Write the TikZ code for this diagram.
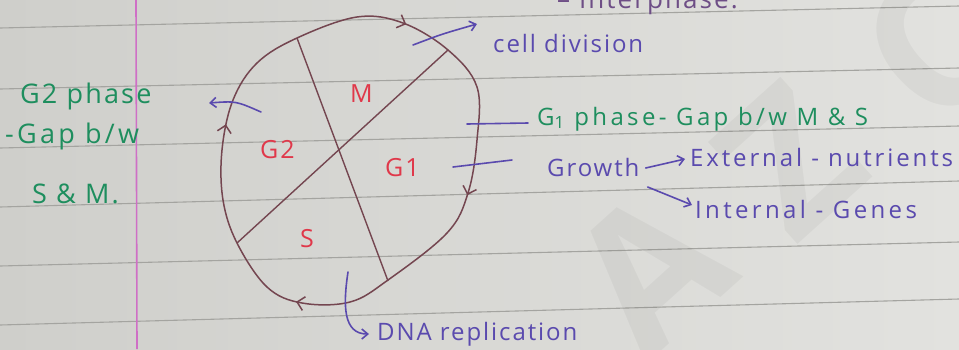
\documentclass[tikz,border=0pt]{standalone}
\usepackage{fontspec}
\setmainfont{Open Sans}[LetterSpace=8]
\usetikzlibrary{arrows.meta,decorations.markings}
\definecolor{paperL}{HTML}{CFCFCB}
\definecolor{paperR}{HTML}{E2E2DF}
\definecolor{rulec}{HTML}{A4A4A0}
\definecolor{marginc}{HTML}{CF6FC6}
\definecolor{cycc}{HTML}{744650}
\definecolor{labc}{HTML}{E0384A}
\definecolor{inkc}{HTML}{5A4AAE}
\definecolor{grnc}{HTML}{1E8E5E}
\definecolor{topc}{HTML}{6E4E86}
\begin{document}
\begin{tikzpicture}[x=1pt,y=-1pt,
  txt/.style={inner sep=0pt, anchor=base west},
  inkline/.style={draw=inkc, line width=1.6pt, line cap=round},
  tip/.style={-{Straight Barb[length=6pt,width=10pt]}},
  phaselab/.style={txt, text=labc, font=\fontsize{25}{28}\selectfont},
  note/.style={txt, text=inkc, font=\fontsize{24}{28}\selectfont},
  gnote/.style={txt, text=grnc, font=\fontsize{24}{28}\selectfont},
  lnote/.style={txt, text=grnc, font=\fontsize{27}{30}\selectfont},
  rulel/.style={draw=rulec, line width=1.1pt},
  wmark/.style={rotate=42, text=black, opacity=0.04, inner sep=0pt, font=\fontsize{190}{190}\selectfont\bfseries},
  cyclearr/.style={decoration={markings,
    mark=at position 0.065 with {\arrow{Straight Barb[length=7pt,width=14pt]}},
    mark=at position 0.317 with {\arrow{Straight Barb[length=7pt,width=14pt]}},
    mark=at position 0.558 with {\arrow{Straight Barb[length=7pt,width=14pt]}},
    mark=at position 0.826 with {\arrow{Straight Barb[length=7pt,width=14pt]}}},
    postaction={decorate}},
]
% paper
\shade[left color=paperL, right color=paperR] (0,0) rectangle (959,349);
\useasboundingbox (0,0) rectangle (959,349);
% ruled lines
\foreach \yl/\yr in {28/6, 89/68, 148/126, 207/181, 266/242, 325/299}
  \draw[rulel] (0,\yl) -- (959,\yr);
% margin
\draw[marginc, line width=1.6pt] (136,0) -- (137,349);
% watermark
\node[wmark] (wA) at (650,270) {A};
\node[wmark] (wZ) at (790,160) {Z};
\node[wmark] (wC) at (935,45) {C};
% cycle
\draw[draw=cycc, line width=1.5pt, cyclearr] plot[smooth cycle, tension=0.6] coordinates {
 (477,87) (477,140) (468,193) (447,233) (388,280) (350,302) (302,303) (267,287)
 (237,243) (223,200) (222,150) (233,100) (257,63) (297,38) (357,17) (403,23) (448,50)};
\coordinate (a1) at (297,38);
\coordinate (a2) at (388,281);
\coordinate (b1) at (448,50);
\coordinate (b2) at (237,243);
\draw[cycc, line width=1.4pt] (a1) -- (a2);
\draw[cycc, line width=1.4pt] (b1) -- (b2);
% phase labels
\node[phaselab] (M) at (350,102) {M};
\node[phaselab] (G2) at (260,158) {G2};
\node[phaselab] (G1) at (385,176) {G1};
\node[phaselab] (S) at (300,247) {S};
% texts
\node[txt, text=topc, font=\fontsize{26}{30}\selectfont] (inter) at (557,8) {– Interphase.};
\node[note] (cell) at (493,52) {cell division};
\node[gnote] (g1t) at (537,125) {\addfontfeature{LetterSpace=14}G\textsubscript{1} phase- Gap b/w M \& S};
\node[note] (grow) at (547,176) {Growth};
\node[note] (ext) at (690,166) {\addfontfeature{LetterSpace=12}External - nutrients};
\node[note] (int) at (695,218) {\addfontfeature{LetterSpace=14}Internal - Genes};
\node[note] (dna) at (377,340) {DNA replication};
\node[lnote] (g2t1) at (20,103) {G2 phase};
\node[lnote] (g2t2) at (5,143) {\addfontfeature{LetterSpace=12}-Gap b/w};
\node[lnote] (g2t3) at (32,203) {S \& M.};
% connectors
\coordinate (cdA) at (413,45);
\coordinate (cdB) at (477,24);
\draw[inkline, tip] (cdA) .. controls (442,34) .. (cdB);
\coordinate (gA) at (261,112);
\coordinate (gB) at (209,103);
\draw[inkline, tip] (gA) .. controls (236,101) .. (gB);
\coordinate (g1a) at (467,124);
\draw[inkline] (g1a) -- ([xshift=-9pt,yshift=2pt]g1t.base west);
\coordinate (gra) at (453,167);
\draw[inkline] (gra) -- ([xshift=-35pt,yshift=16pt]grow.base west);
\draw[inkline, tip] ([xshift=6pt,yshift=8pt]grow.base east) -- ([xshift=-5pt,yshift=7pt]ext.base west);
\draw[inkline, tip] ([xshift=8pt,yshift=-11pt]grow.base east) -- ([xshift=-3pt,yshift=13pt]int.base west);
\coordinate (dA) at (348,272);
\draw[inkline, tip] (dA) .. controls (343,305) and (343,334) .. ([xshift=-8pt,yshift=6pt]dna.base west);
\end{tikzpicture}
\end{document}
